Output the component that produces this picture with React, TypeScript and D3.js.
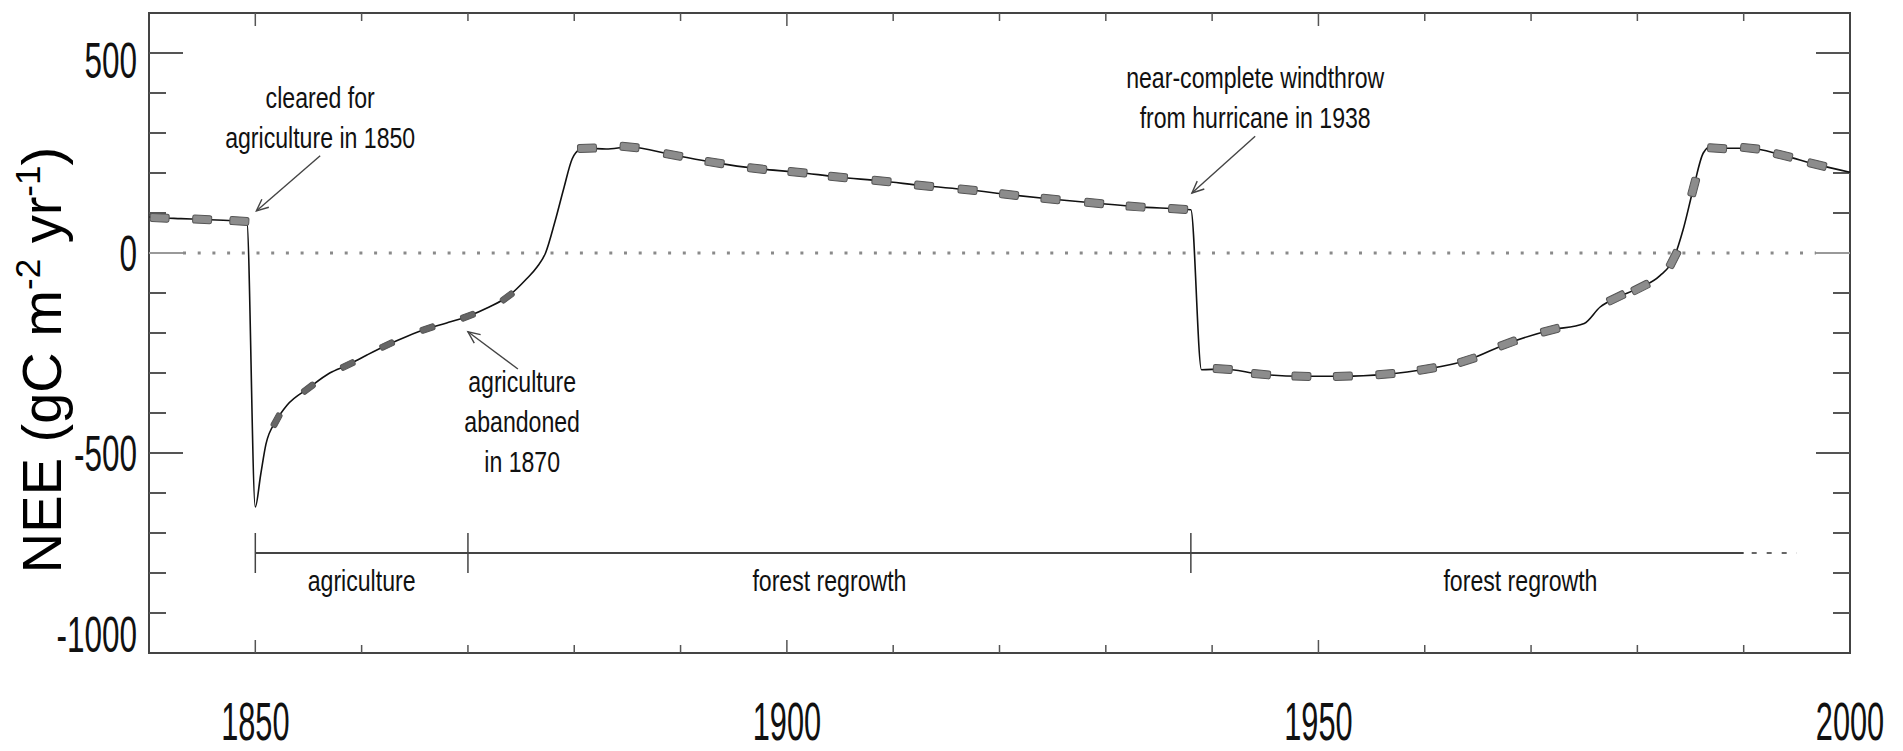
import React, { useEffect, useRef } from 'react';
import * as d3 from 'd3';

// NEE time series (year, gC m-2 yr-1)
const years = [
  1840, 1841, 1843, 1845, 1847, 1848.5, 1849.2,
  1850, 1850.5, 1851, 1852, 1853, 1855, 1857, 1858.7, 1860.5, 1862.4, 1864.3, 1866.2, 1868, 1870,
  1872, 1873.7, 1875.5, 1876.5, 1877.3, 1878.2, 1879, 1879.8, 1880.5, 1881.2, 1883, 1885.2,
  1889.3, 1893.2, 1897.2, 1901, 1904.8, 1908.9, 1912.9, 1917, 1920.9, 1924.8, 1928.9, 1932.8, 1936.8, 1938,
  1939, 1941, 1944.6, 1948.4, 1952.3, 1956.3, 1960.2, 1964, 1967.8, 1971.8, 1975, 1976.5, 1978, 1980.3,
  1982.1, 1983.4, 1984.3, 1985.3, 1986.2, 1987, 1987.5, 1990.6, 1993.7, 1996.9, 2000,
];
const nee = [
  90, 88, 86, 84, 82, 80, 79,
  -635, -555, -478, -418, -380, -338, -300, -280, -255, -230, -208, -189, -175, -158,
  -135, -110, -65, -35, 0, 80, 160, 235, 258, 262, 260, 265,
  245, 226, 211, 202, 190, 180, 168, 158, 146, 135, 125, 116, 110, 108,
  -292, -290, -303, -308, -308, -303, -290, -268, -226, -193, -176, -135, -112, -86,
  -57, -15, 58, 165, 250, 268, 262, 262, 244, 221, 202,
];
// years where the ensemble markers sit on the curve
const markerYears = [
  1841, 1845, 1848.5, 1852, 1855, 1858.7, 1862.4, 1866.2, 1870, 1873.7,
  1881.2, 1885.2, 1889.3, 1893.2, 1897.2, 1901, 1904.8, 1908.9, 1912.9, 1917, 1920.9, 1924.8,
  1928.9, 1932.8, 1936.8, 1941, 1944.6, 1948.4, 1952.3, 1956.3, 1960.2, 1964, 1967.8, 1971.8,
  1978, 1980.3, 1983.4, 1985.3, 1987.5, 1990.6, 1993.7, 1996.9,
];

const yLabels = [500, 0, -500, -1000];
const xLabels = [1850, 1900, 1950, 2000];

// land-use phases along the bottom bar
const phaseStarts = [1850, 1870, 1938];
const phaseEnds = [1870, 1938, 2000];
const phaseLabels = ['agriculture', 'forest regrowth', 'forest regrowth'];
const phaseBarValue = -750;
const recordEnd = 1990;
const dottedEnd = 1995;

// annotations: text position and arrow, in data units
const noteLines = [
  ['cleared for', 'agriculture in 1850'],
  ['agriculture', 'abandoned', 'in 1870'],
  ['near-complete windthrow', 'from hurricane in 1938'],
];
const noteAt = [[1856.1, 362], [1875.1, -347], [1944.05, 412]];
const arrowFrom = [[1856.1, 243], [1874.7, -290], [1944.05, 292]];
const arrowTo = [[1850.1, 105], [1870, -197], [1938.1, 150]];

const FONT = 'Liberation Sans, Arial, Helvetica, sans-serif';

const App = () => {
  const svgRef = useRef(null);

  useEffect(() => {
    const svg = d3.select(svgRef.current);
    svg.selectAll('*').remove();

    const left = 149, right = 1850, top = 13, bottom = 653;
    const x = d3.scaleLinear().domain([1840, 2000]).range([left, right]);
    const y = d3.scaleLinear().domain([-1000, 600]).range([bottom, top]);

    // squeezed text helper (the original figure is stretched vertically)
    const addText = (g, tx, ty, str, size, sx, anchor) =>
      g.append('text')
        .attr('transform', `translate(${tx},${ty}) scale(${sx},1)`)
        .attr('text-anchor', anchor)
        .attr('font-family', FONT)
        .attr('font-size', size)
        .attr('fill', '#111')
        .text(str);

    // zero line
    svg.append('line')
      .attr('x1', left + 34).attr('x2', right - 34)
      .attr('y1', y(0)).attr('y2', y(0))
      .attr('stroke', '#8a8a8a').attr('stroke-width', 3)
      .attr('stroke-dasharray', '3,11.7');

    // frame
    svg.append('rect')
      .attr('x', left).attr('y', top)
      .attr('width', right - left).attr('height', bottom - top)
      .attr('fill', 'none').attr('stroke', '#444').attr('stroke-width', 2);

    // y ticks on both sides
    const yTicks = d3.range(-900, 600, 100);
    yTicks.forEach(v => {
      const len = v % 500 === 0 ? 34 : 17;
      const col = v === 0 ? '#999' : '#555';
      svg.append('line').attr('x1', left).attr('x2', left + len)
        .attr('y1', y(v)).attr('y2', y(v)).attr('stroke', col).attr('stroke-width', 2);
      svg.append('line').attr('x1', right - len).attr('x2', right)
        .attr('y1', y(v)).attr('y2', y(v)).attr('stroke', col).attr('stroke-width', 2);
    });

    // x ticks top and bottom
    d3.range(1850, 2000, 10).forEach(t => {
      const len = t % 50 === 0 ? 13 : 8;
      svg.append('line').attr('x1', x(t)).attr('x2', x(t))
        .attr('y1', top).attr('y2', top + len).attr('stroke', '#555').attr('stroke-width', 1.5);
      svg.append('line').attr('x1', x(t)).attr('x2', x(t))
        .attr('y1', bottom).attr('y2', bottom - len).attr('stroke', '#555').attr('stroke-width', 1.5);
    });

    // tick labels
    yLabels.forEach(v => {
      const yc = Math.min(Math.max(y(v), 60), 634);
      addText(svg, 137, yc + 18, String(v), 50, 0.63, 'end');
    });
    xLabels.forEach(t => addText(svg, x(t), 740, String(t), 53, 0.58, 'middle'));

    // y axis title
    const title = svg.append('text')
      .attr('transform', 'translate(61,360) rotate(-90)')
      .attr('text-anchor', 'middle')
      .attr('font-family', FONT)
      .attr('font-size', 56)
      .attr('fill', '#000');
    title.append('tspan').text('NEE (gC m');
    title.append('tspan').attr('dy', -21).attr('font-size', 35).text('-2');
    title.append('tspan').attr('dy', 21).text(' yr');
    title.append('tspan').attr('dy', -21).attr('font-size', 35).text('-1');
    title.append('tspan').attr('dy', 21).text(')');

    // data line
    const pts = years.map((t, i) => [t, nee[i]]);
    const line = d3.line().x(d => x(d[0])).y(d => y(d[1])).curve(d3.curveMonotoneX);
    svg.append('path').datum(pts)
      .attr('d', line)
      .attr('fill', 'none').attr('stroke', '#111').attr('stroke-width', 1.6);

    // ensemble markers along the curve
    markerYears.forEach(t => {
      const i = years.indexOf(t);
      if (i < 0) return;
      const a = pts[Math.max(i - 1, 0)], b = pts[Math.min(i + 1, pts.length - 1)];
      const ang = Math.atan2(y(b[1]) - y(a[1]), x(b[0]) - x(a[0])) * 180 / Math.PI;
      const agri = t > 1850 && t < 1877;
      const w = agri ? 15 : 19;
      const h = agri ? 6 : 8;
      svg.append('rect')
        .attr('x', -w / 2).attr('y', -h / 2).attr('width', w).attr('height', h).attr('rx', 2)
        .attr('transform', `translate(${x(t)},${y(pts[i][1])}) rotate(${ang})`)
        .attr('fill', agri ? '#666' : '#8c8c8c').attr('stroke', '#555').attr('stroke-width', 1);
    });

    // phase bar
    const yb = y(phaseBarValue);
    svg.append('line').attr('x1', x(phaseStarts[0])).attr('x2', x(recordEnd))
      .attr('y1', yb).attr('y2', yb).attr('stroke', '#444').attr('stroke-width', 2);
    svg.append('line').attr('x1', x(recordEnd) + 8).attr('x2', x(dottedEnd))
      .attr('y1', yb).attr('y2', yb).attr('stroke', '#666').attr('stroke-width', 2)
      .attr('stroke-dasharray', '5,10');
    phaseStarts.forEach((t, i) => {
      svg.append('line').attr('x1', x(t)).attr('x2', x(t))
        .attr('y1', yb - 20).attr('y2', yb + 20).attr('stroke', '#444').attr('stroke-width', 1.5);
      addText(svg, (x(t) + x(phaseEnds[i])) / 2, yb + 38, phaseLabels[i], 30, 0.77, 'middle');
    });

    // annotations with arrows
    noteLines.forEach((lines, k) => {
      const [tx, tv] = noteAt[k];
      lines.forEach((s, j) => addText(svg, x(tx), y(tv) + j * 40, s, 30, 0.77, 'middle'));
      const x1 = x(arrowFrom[k][0]), y1 = y(arrowFrom[k][1]);
      const x2 = x(arrowTo[k][0]), y2 = y(arrowTo[k][1]);
      svg.append('line').attr('x1', x1).attr('y1', y1).attr('x2', x2).attr('y2', y2)
        .attr('stroke', '#444').attr('stroke-width', 1.4);
      const ang = Math.atan2(y1 - y2, x1 - x2);
      const hl = 13, spread = 0.42;
      const p1 = [x2 + hl * Math.cos(ang + spread), y2 + hl * Math.sin(ang + spread)];
      const p2 = [x2 + hl * Math.cos(ang - spread), y2 + hl * Math.sin(ang - spread)];
      svg.append('path')
        .attr('d', `M${p1[0]},${p1[1]}L${x2},${y2}L${p2[0]},${p2[1]}`)
        .attr('fill', 'none').attr('stroke', '#444').attr('stroke-width', 1.4);
    });
  }, []);

  return (
    <svg
      ref={svgRef}
      width={1903}
      height={751}
      style={{ position: 'absolute', left: 0, top: 0, background: '#fff' }}
    />
  );
};

export default App;
